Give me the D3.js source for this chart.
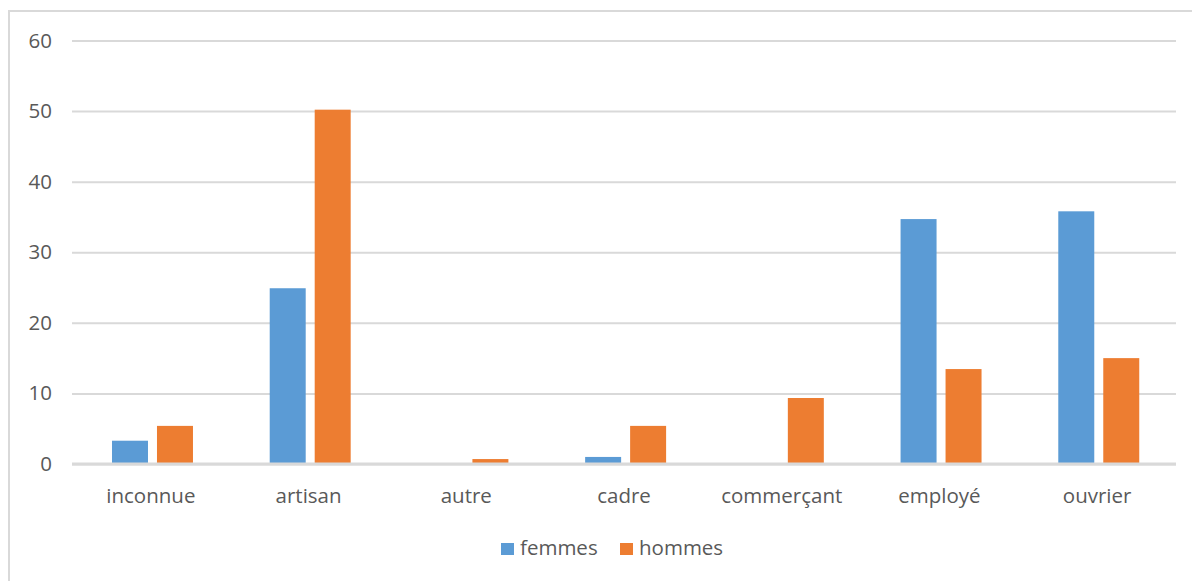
<!DOCTYPE html>
<html><head><meta charset="utf-8">
<script src="https://cdn.jsdelivr.net/npm/d3@7"></script>
<style>body{margin:0;background:#fff;}svg{display:block;}</style>
</head><body>
<svg id="c" width="1192" height="581"></svg>
<script>
const categories = ["inconnue","artisan","autre","cadre","commerçant","employé","ouvrier"];
const seriesNames = ["femmes","hommes"];
const femmes = [3.3, 24.9, 0, 1.0, 0, 34.7, 35.8];
const hommes = [5.4, 50.2, 0.7, 5.4, 9.35, 13.45, 15.0];
const yTicks = [0,10,20,30,40,50,60];
const colors = ["#5b9bd5","#ed7d31"];

(function(){
const values = [femmes, hommes];
const svg = d3.select("#c");
const font = "'Open Sans', sans-serif";
const textColor = "#595959";
const fs = "20.5px";

svg.append("rect").attr("x",9).attr("y",11).attr("width",1300).attr("height",700)
  .attr("fill","#fff").attr("stroke","#d9d9d9").attr("stroke-width",2);

const mLeft = 72, mRight = 1176, mTop = 40.5, mBottom = 464;
const x0 = d3.scaleBand().domain(categories).range([mLeft, mRight]).padding(0);
const step = x0.bandwidth();
const x1 = d3.scaleBand().domain(seriesNames).range([step*0.2536, step*0.767]).paddingInner(0.2).paddingOuter(0);
const y = d3.scaleLinear().domain([0,60]).range([mBottom, mTop]);

const yAxis = d3.axisLeft(y).tickValues(yTicks).tickSize(-(mRight-mLeft)).tickPadding(20);
const gy = svg.append("g").attr("transform",`translate(${mLeft},0)`).call(yAxis);
gy.select(".domain").remove();
gy.selectAll(".tick line").attr("stroke","#d9d9d9").attr("stroke-width",2);
gy.selectAll(".tick text").attr("fill",textColor).style("font-family",font).style("font-size",fs).attr("x",-20);

const groups = svg.append("g").selectAll("g").data(categories).join("g")
  .attr("transform", d => `translate(${x0(d)},0)`);
groups.selectAll("rect").data((d,i) => seriesNames.map((s,j) => ({s, v: values[j][i], j})))
  .join("rect")
  .attr("x", d => x1(d.s)).attr("width", x1.bandwidth())
  .attr("y", d => y(d.v)).attr("height", d => Math.max(0, mBottom - 1 - y(d.v)))
  .attr("fill", d => colors[d.j]);

svg.append("line").attr("x1",mLeft).attr("x2",mRight).attr("y1",y(0)).attr("y2",y(0))
  .attr("stroke","#d9d9d9").attr("stroke-width",3);

const xAxis = d3.axisBottom(x0).tickSize(0).tickPadding(0);
const gx = svg.append("g").attr("transform",`translate(0,${mBottom})`).call(xAxis);
gx.select(".domain").remove();
gx.selectAll(".tick text").attr("fill",textColor).style("font-family",font).style("font-size",fs)
  .attr("dy",null).attr("y",39);

const legend = svg.append("g");
const legX = [501, 620];
seriesNames.forEach((s,i) => {
  legend.append("rect").attr("x",legX[i]).attr("y",543).attr("width",13).attr("height",12).attr("fill",colors[i]);
  legend.append("text").attr("x",legX[i]+19).attr("y",555).text(s)
    .attr("fill",textColor).style("font-family",font).style("font-size",fs);
});
})();
</script>
</body></html>
